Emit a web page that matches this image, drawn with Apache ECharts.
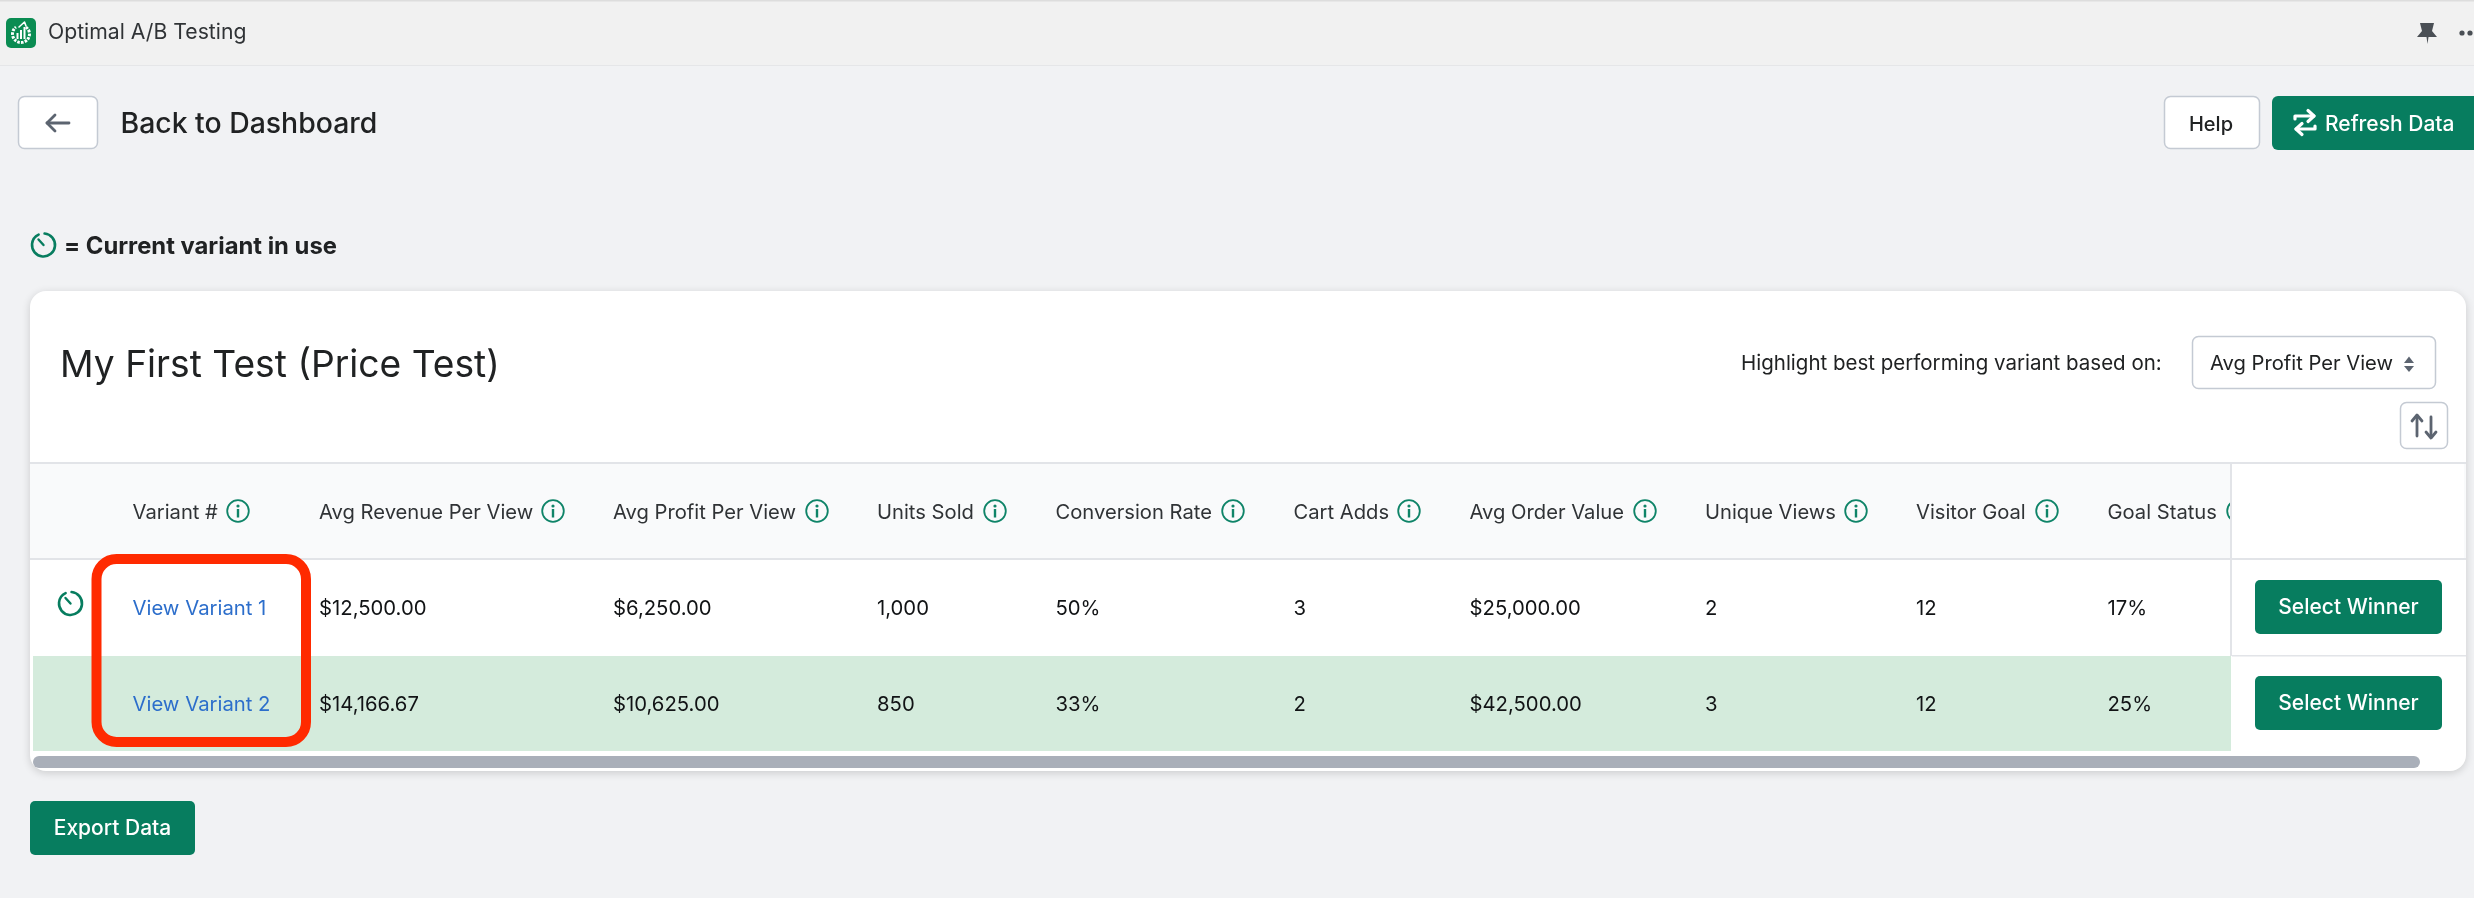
<!DOCTYPE html>
<html>
<head>
<meta charset="utf-8">
<title>Optimal A/B Testing</title>
<script src="https://cdn.jsdelivr.net/npm/echarts@6/dist/echarts.min.js"></script>
<style>
  html, body { margin: 0; padding: 0; background: #f1f2f4; }
  #main { width: 2474px; height: 898px; }
</style>
</head>
<body>
<div id="main"></div>
<script>
// table content
const appName = 'Optimal A/B Testing'
const backLabel = 'Back to Dashboard'
const legendLabel = '= Current variant in use'
const testTitle = 'My First Test (Price Test)'
const highlightLabel = 'Highlight best performing variant based on:'
const highlightChoice = 'Avg Profit Per View'
const headers = ['Variant #', 'Avg Revenue Per View', 'Avg Profit Per View', 'Units Sold', 'Conversion Rate', 'Cart Adds', 'Avg Order Value', 'Unique Views', 'Visitor Goal', 'Goal Status']
const variant1 = ['View Variant 1', '$12,500.00', '$6,250.00', '1,000', '50%', '3', '$25,000.00', '2', '12', '17%']
const variant2 = ['View Variant 2', '$14,166.67', '$10,625.00', '850', '33%', '2', '$42,500.00', '3', '12', '25%']

// layout, separate from the values
const columnX = [132.5, 319, 613, 877, 1055.5, 1293.5, 1469.5, 1705, 1916, 2107.5]
const headerIconX = [238, 553, 817, 995, 1233, 1409, 1645, 1856, 2047, 2238]

const FONT = 'Inter, "Noto Sans", sans-serif'
const GREEN = '#077d5f'
const ICON_GREEN = '#0f8468'
const BORDER = '#c4cad3'
const LINE = '#e2e4e8'

const els = []

const rect = (x, y, w, h, fill, r, extra) => els.push({
    type: 'rect', shape: { x, y, width: w, height: h, r: r || 0 },
    style: Object.assign({ fill }, extra || {})
})
const text = (x, y, str, size, color, weight, align) => els.push({
    type: 'text', x, y: y + 1,
    style: { text: str, fontFamily: FONT, fontSize: size, fontWeight: weight || 400, fill: color, textAlign: align || 'left', textVerticalAlign: 'middle' }
})
const poly = (points, stroke, width) => els.push({
    type: 'polyline', shape: { points },
    style: { fill: null, stroke, lineWidth: width, lineCap: 'round', lineJoin: 'round' }
})
const solid = (points, fill) => els.push({ type: 'polygon', shape: { points }, style: { fill } })
const dot = (cx, cy, r, fill) => els.push({ type: 'circle', shape: { cx, cy, r }, style: { fill } })
const button = (x, y, w, h) => rect(x, y, w, h, '#ffffff', 6, { stroke: BORDER, lineWidth: 1.5 })

// clock icon that marks the current variant
const clockIcon = (cx, cy) => {
    els.push({
        type: 'arc',
        shape: { cx, cy, r: 11.5, startAngle: -Math.PI * 0.47, endAngle: Math.PI * 1.36, clockwise: true },
        style: { fill: null, stroke: GREEN, lineWidth: 2.6, lineCap: 'round' }
    })
    poly([[cx - 5, cy - 5.5], [cx, cy]], GREEN, 2.4)
}

const infoIcon = (cx, cy) => {
    els.push({ type: 'circle', shape: { cx, cy, r: 10.8 }, style: { fill: null, stroke: ICON_GREEN, lineWidth: 1.8 } })
    dot(cx, cy - 5, 1.6, ICON_GREEN)
    rect(cx - 1.2, cy - 2, 2.4, 8.5, ICON_GREEN)
}

// app bar
rect(0, 0, 2474, 65, '#f1f1f1')
rect(0, 0, 2474, 1.5, '#dddddd')
rect(0, 65, 2474, 1, '#e5e6e8')
rect(6, 18, 30, 30, '#0a8c52', 5)
els.push({ type: 'arc', shape: { cx: 21, cy: 34, r: 8.5, startAngle: -Math.PI * 0.3, endAngle: Math.PI * 1.3, clockwise: true }, style: { fill: null, stroke: '#ffffff', lineWidth: 3, lineDash: [2.5, 1.2] } })
rect(16.5, 33, 2, 6, '#ffffff')
rect(20, 30, 2, 9, '#ffffff')
rect(23.5, 27, 2, 12, '#ffffff')
poly([[19, 27], [24.5, 22], [26, 26]], '#ffffff', 1.6)
text(48, 32, appName, 21.2, '#303336')
solid([[2420, 23], [2434, 23], [2433, 27], [2432, 31], [2437, 37], [2428.5, 37], [2427.5, 44], [2426.5, 37], [2417, 37], [2422, 31], [2421, 27]], '#4a4f55')
dot(2462, 33, 2.6, '#4a4f55')
dot(2470, 33, 2.6, '#4a4f55')

// page header
button(18.5, 96.5, 79, 52)
poly([[69, 123], [47, 123]], '#5c6470', 2.8)
poly([[55, 115], [47, 123], [55, 131]], '#5c6470', 2.8)
text(120.5, 123, backLabel, 28.4, '#202223', 500)
button(2164.5, 96.5, 95, 52)
text(2211, 124, 'Help', 20, '#202223', 500, 'center')
rect(2272, 96, 220, 54, GREEN, 6)
poly([[2295, 119], [2295, 116], [2314, 116]], '#ffffff', 3.2)
poly([[2308, 110.5], [2314, 116], [2308, 121.5]], '#ffffff', 3.2)
poly([[2315, 126], [2315, 129], [2296, 129]], '#ffffff', 3.2)
poly([[2302, 123.5], [2296, 129], [2302, 134.5]], '#ffffff', 3.2)
text(2325, 124, 'Refresh Data', 21, '#ffffff', 500)

clockIcon(43.5, 245)
text(64, 246, legendLabel, 23.8, '#202223', 700)

// card
rect(30, 291, 2436, 480, '#ffffff', 16, { shadowBlur: 8, shadowColor: 'rgba(0,0,0,0.16)', shadowOffsetY: 2 })
text(60, 365, testTitle, 37.2, '#202223', 400)
text(1741, 363, highlightLabel, 20.5, '#202223')
button(2192.5, 336.5, 243, 52)
text(2210, 363, highlightChoice, 20.2, '#202223')
solid([[2409, 356.5], [2414, 363], [2404, 363]], '#5c6470')
solid([[2404, 366], [2414, 366], [2409, 372]], '#5c6470')
button(2400.5, 402.5, 47, 46)
poly([[2417, 436], [2417, 416]], '#5c6470', 2.8)
poly([[2412, 421], [2417, 415], [2422, 421]], '#5c6470', 2.8)
poly([[2431, 417], [2431, 437]], '#5c6470', 2.8)
poly([[2426, 432], [2431, 438], [2436, 432]], '#5c6470', 2.8)

// table header
rect(30, 463, 2436, 96, '#f9fafb')
rect(30, 462, 2436, 2, LINE)
rect(30, 558, 2436, 2, LINE)
headers.forEach((h, i) => {
    text(columnX[i], 512, h, 20.2, '#303336')
    infoIcon(headerIconX[i], 511)
})

// rows
rect(33, 656, 2198, 95, '#d4ebdc')
variant1.forEach((v, i) => text(columnX[i], 608, v, 20.3, i === 0 ? '#2c6ecb' : '#111315'))
variant2.forEach((v, i) => text(columnX[i], 704, v, 20.3, i === 0 ? '#2c6ecb' : '#111315'))
clockIcon(70.5, 603.5)

// fixed action column
rect(2232, 464, 232, 94, '#ffffff')
rect(2230, 463, 2, 193, LINE)
rect(2232, 558, 234, 2, LINE)
rect(2232, 655, 234, 1.5, LINE)
;[580, 676].forEach(y => {
    rect(2255, y, 187, 54, GREEN, 5)
    text(2348.5, y + 27, 'Select Winner', 21, '#ffffff', 500, 'center')
})

// scrollbar and export
rect(33, 756, 2387, 12, '#a9afb9', 6)
rect(30, 801, 165, 54, GREEN, 5)
text(112.5, 828, 'Export Data', 21, '#ffffff', 500, 'center')

// red annotation box
rect(96.5, 559, 209.5, 183, null, 20, { fill: 'transparent', stroke: '#ff2a00', lineWidth: 10 })

const myChart = echarts.init(document.getElementById('main'), null, { renderer: 'canvas' })
myChart.setOption({
    backgroundColor: '#f1f2f4',
    animation: false,
    graphic: { elements: els.map((e, i) => Object.assign({ z: i, silent: true }, e)) }
})
</script>
</body>
</html>
